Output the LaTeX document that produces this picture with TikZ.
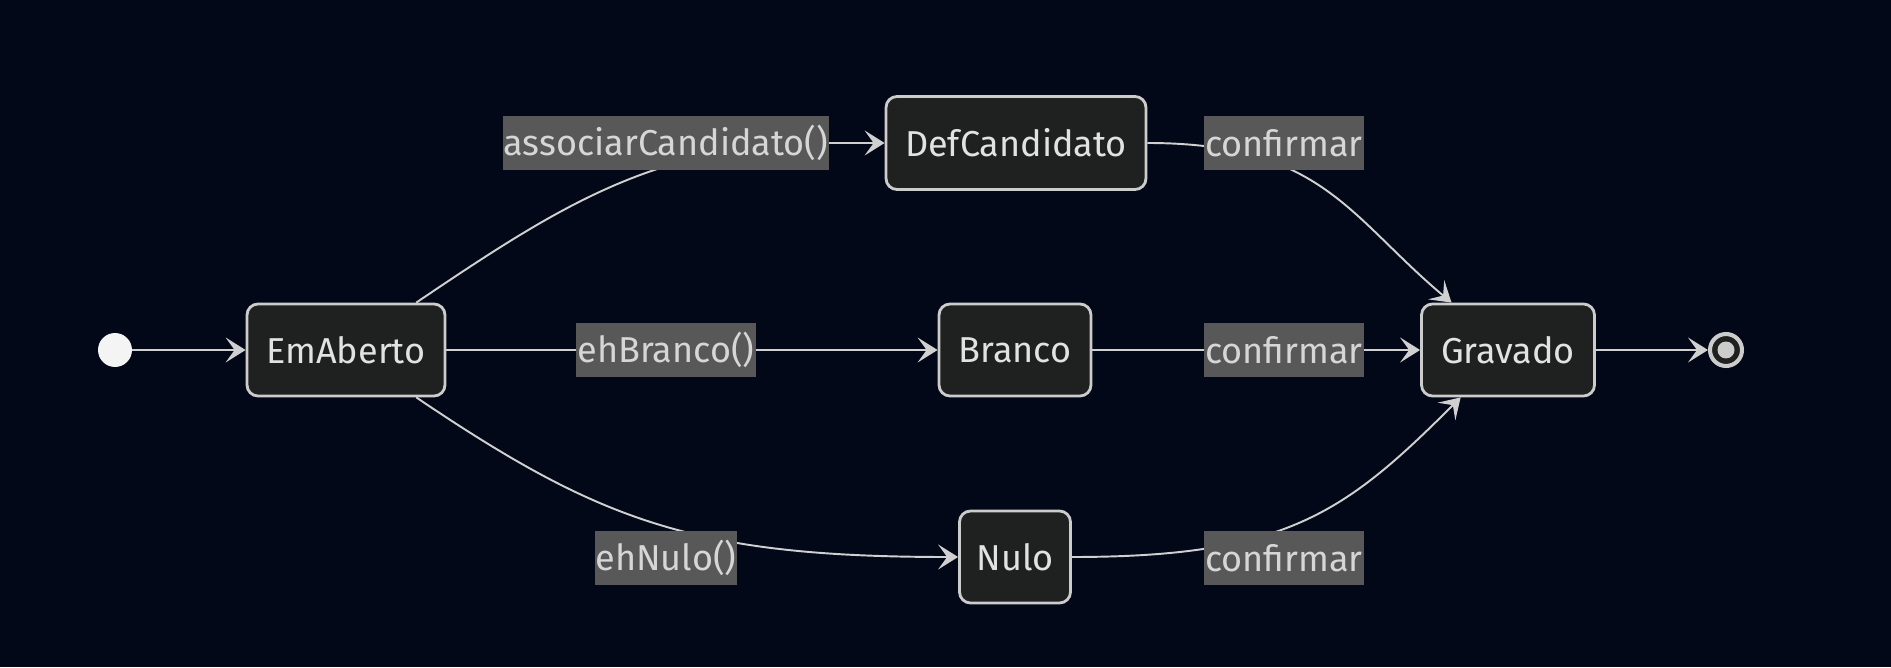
\documentclass[tikz,border=0pt]{standalone}
\usepackage{fontspec}
\setmainfont{Fira Sans}
\usetikzlibrary{arrows.meta,backgrounds}

\definecolor{bgnavy}{RGB}{2,8,23}
\definecolor{statefill}{RGB}{31,32,32}
\definecolor{stateline}{RGB}{204,204,204}
\definecolor{statetext}{RGB}{226,226,226}
\definecolor{labelfill}{RGB}{88,88,88}
\definecolor{labeltext}{RGB}{214,214,214}
\definecolor{edgeline}{RGB}{208,208,208}
\definecolor{startfill}{RGB}{244,244,244}

\begin{document}
\begin{tikzpicture}[x=0.02cm, y=0.02cm,
	font=\fontsize{20.5}{24}\selectfont,
	statebox/.style={draw=stateline, fill=statefill, text=statetext, rounded corners=0.22cm,
		line width=1.6pt, minimum height=1.84cm, inner sep=0pt},
	edgelabel/.style={fill=labelfill, text=labeltext, minimum height=1.08cm, inner sep=0pt},
	trans/.style={draw=edgeline, line width=1.1pt, -{Stealth[length=0.4cm, width=0.5cm, inset=0.18cm]}}]
			\begin{scope}[on background layer]
				\fill [bgnavy] (0,0) rectangle (1891,667);
			\end{scope}

			\node [circle, fill=startfill, minimum size=0.68cm, inner sep=0pt] (start) at (115,317) {};
			\node [statebox, minimum width=3.96cm] (EmAberto) at (346,317) {EmAberto};
			\node [statebox, minimum width=5.2cm, minimum height=1.86cm] (DefCandidato) at (1016,524) {DefCandidato};
			\node [statebox, minimum width=3.04cm] (Branco) at (1015,317) {Branco};
			\node [statebox, minimum width=2.22cm] (Nulo) at (1015,110) {Nulo};
			\node [statebox, minimum width=3.46cm] (Gravado) at (1508,317) {Gravado};
			\node [circle, draw=stateline, line width=2.3pt, fill=statefill, minimum size=0.64cm, inner sep=0pt,
				path picture={\fill [stateline] (path picture bounding box.center) circle (0.17cm);}] (endstate) at (1726,317) {};

			\node [edgelabel, minimum width=6.52cm] (lblAssoc) at (666,524) {associarCandidato()};
			\node [edgelabel, minimum width=3.2cm] (lblConfA) at (1284,524) {confirmar};
			\node [edgelabel, minimum width=3.62cm] (lblBranco) at (666,317) {ehBranco()};
			\node [edgelabel, minimum width=3.2cm] (lblConfB) at (1284,317) {confirmar};
			\node [edgelabel, minimum width=2.84cm] (lblNulo) at (666,109) {ehNulo()};
			\node [edgelabel, minimum width=3.2cm] (lblConfC) at (1284,109) {confirmar};

			\begin{scope}[on background layer]
				\draw [trans] (start) -- (EmAberto);
				\draw [trans] (EmAberto) to[out=34, in=180] (lblAssoc.east) -- (DefCandidato);
				\draw [trans] (EmAberto) -- (Branco);
				\draw [trans] (EmAberto) to[out=-34, in=180, in looseness=1.2] (Nulo);
				\draw [trans] (DefCandidato) to[out=0, in=140, out looseness=1.3] (Gravado);
				\draw [trans] (Branco) -- (Gravado);
				\draw [trans] (Nulo) to[out=0, in=-135, out looseness=1.3] (Gravado);
				\draw [trans] (Gravado) -- (endstate);
			\end{scope}
		\end{tikzpicture}
\end{document}
